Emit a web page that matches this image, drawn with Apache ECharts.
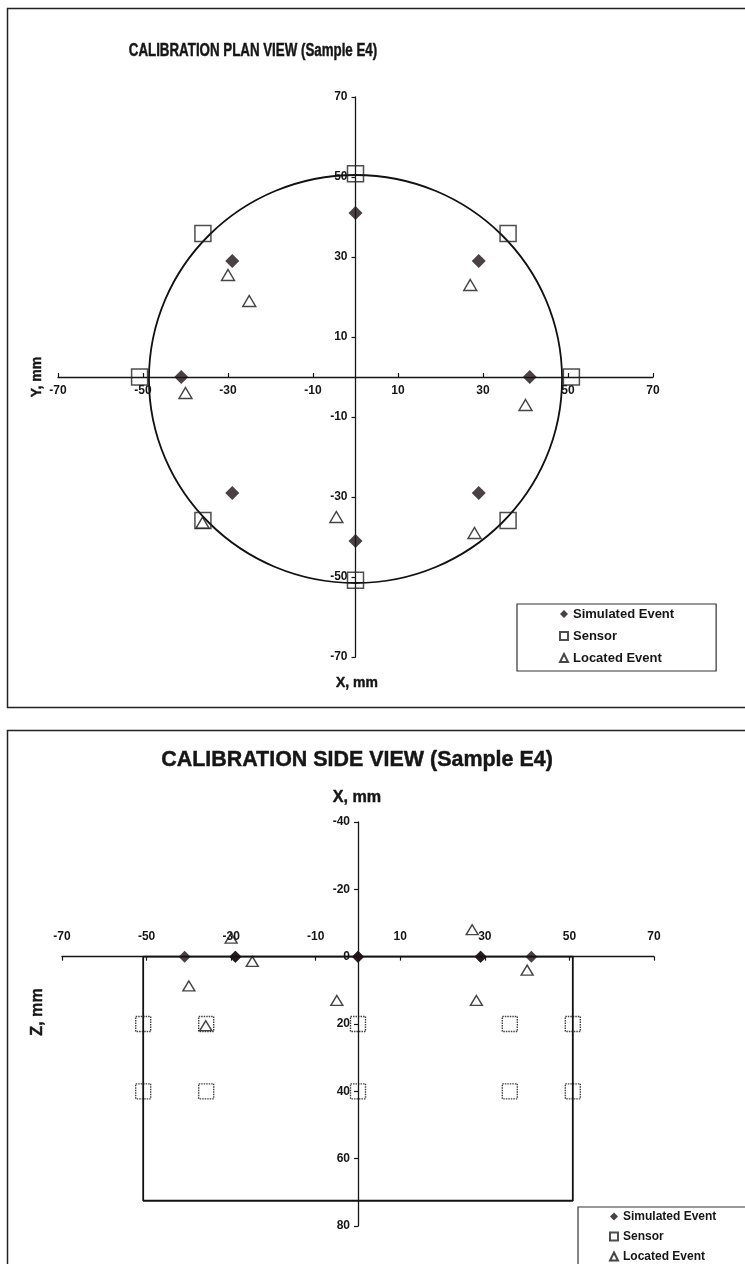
<!DOCTYPE html>
<html>
<head>
<meta charset="utf-8">
<script src="https://cdn.jsdelivr.net/npm/echarts@6/dist/echarts.min.js"></script>
<style>
  html, body { margin: 0; padding: 0; background: #ffffff; }
  #chart { width: 745px; height: 1264px; }
</style>
</head>
<body>
<div id="chart"></div>
<script>
// ---- Plan view (X, Y in mm) ----
const planSimulated = [[0, 41], [29, 29], [41, 0], [29, -29], [0, -41], [-29, -29], [-41, 0], [-29, 29]];
const planSensors = [[0, 50.8], [35.9, 35.9], [50.8, 0], [35.9, -35.9], [0, -50.8], [-35.9, -35.9], [-50.8, 0], [-35.9, 35.9]];
const planLocated = [[-30, 25.5], [-25, 19], [-40, -4], [27, 23], [40, -7], [-36, -36.4], [-4.5, -35], [28, -39]];
const planTicks = [-70, -50, -30, -10, 10, 30, 50, 70];

// Specimen outline in plan view (centre and half-widths, mm)
const specimenCentre = [0, -0.5];
const specimenHalfWidths = [48.6, 51];

// ---- Side view (X, Z in mm) ----
const sideSimulated = [[0, 0], [29, 0], [41, 0], [29, 0], [0, 0], [-29, 0], [-41, 0], [-29, 0]];
const sideSensors = [[-50.8, 20], [-35.9, 20], [0, 20], [35.9, 20], [50.8, 20],
                     [-50.8, 40], [-35.9, 40], [0, 40], [35.9, 40], [50.8, 40]];
const sideLocated = [[-30, -5.5], [-25, 1.4], [-40, 8.7], [27, -8], [40, 4], [-36, 20.5], [-5, 13], [28, 13]];
const sideXTicks = [-70, -50, -30, -10, 10, 30, 50, 70];
const sideZTicks = [-40, -20, 0, 20, 40, 60, 80];
const sideOutline = [[-50.8, 0], [-50.8, 72.5], [50.8, 72.5], [50.8, 0], [-50.8, 0]];

const SERIES_NAMES = ['Simulated Event', 'Sensor', 'Located Event'];

const SANS = '"Liberation Sans", Arial, sans-serif';
const INK = '#161616';

function merge(a, b) { return Object.assign({}, a, b); }

function valueAxis(o, ticks, labelOpts, tickOpts) {
  return Object.assign({
    type: 'value',
    splitLine: { show: false },
    axisLine: { show: true, onZero: false, lineStyle: { color: INK, width: 1.3 } },
    axisTick: merge({ show: true, length: 4, customValues: ticks, lineStyle: { color: INK, width: 1.2 } }, tickOpts || {}),
    axisLabel: merge({ color: INK, fontWeight: 'bold', fontFamily: SANS, fontSize: 12, customValues: ticks }, labelOpts || {})
  }, o);
}

const topX = valueAxis({ gridIndex: 0, min: -70, max: 70, position: 'bottom' }, planTicks, { margin: 8 }, { inside: true });
const topY = valueAxis({ gridIndex: 0, min: -70, max: 70, position: 'left' }, planTicks, { margin: 8 });
const botX = valueAxis({ gridIndex: 1, min: -70, max: 70, position: 'top' }, sideXTicks, { margin: 14 }, { inside: true });
const botY = valueAxis({ gridIndex: 1, min: -40, max: 80, interval: 20, inverse: true, position: 'left' }, sideZTicks, { margin: 8 });

function markerSeries(name, kind, data, axisIdx, small) {
  const s = { name: name, type: 'scatter', xAxisIndex: axisIdx, yAxisIndex: axisIdx, data: data, z: 5,
              emphasis: { disabled: true }, silent: true };
  if (kind === 'diamond') {
    s.symbol = 'diamond'; s.symbolSize = small ? [12, 12] : [14, 14];
    s.itemStyle = { color: '#1c1214' };
  } else if (kind === 'rect') {
    s.symbol = 'rect'; s.symbolSize = small ? [15, 15] : [16, 16];
    s.itemStyle = small
      ? { color: 'rgba(255,255,255,0)', borderColor: '#111', borderWidth: 1.4, borderType: [1.5, 1] }
      : { color: 'rgba(255,255,255,0)', borderColor: '#222', borderWidth: 1.5 };
  } else {
    s.symbol = 'triangle'; s.symbolSize = small ? [12, 10] : [13, 11];
    s.itemStyle = { color: 'rgba(255,255,255,0)', borderColor: INK, borderWidth: 1.4 };
  }
  return s;
}

const legendBase = {
  orient: 'vertical',
  selectedMode: false,
  backgroundColor: 'rgba(255,255,255,0)',
  borderColor: '#333',
  borderWidth: 1.2,
  borderRadius: 0,
  itemWidth: 8,
  itemHeight: 8,
  itemGap: 8,
  textStyle: { color: INK, fontWeight: 'bold', fontFamily: SANS, fontSize: 13, lineHeight: 14 },
  data: [
    { name: SERIES_NAMES[0], icon: 'diamond' },
    { name: SERIES_NAMES[1], icon: 'rect' },
    { name: SERIES_NAMES[2], icon: 'triangle' }
  ]
};

function heavyText(str, x, y, size, sx, rot) {
  return { type: 'text', silent: true, x: x, y: y, scaleX: sx, rotation: rot || 0,
           style: { text: str, font: 'bold ' + size + 'px ' + SANS, fill: INK,
                    stroke: INK, lineWidth: 0.45,
                    textAlign: 'center', textVerticalAlign: 'middle' } };
}

const option = {
  backgroundColor: '#ffffff',
  animation: false,
  grid: [
    { left: 58, width: 595, top: 97, height: 560 },
    { left: 62, width: 592, top: 822, height: 404 }
  ],
  xAxis: [topX, botX],
  yAxis: [topY, botY],
  legend: [
    merge(legendBase, { left: 517, top: 604, padding: [3, 42, 6, 42] }),
    merge(legendBase, {
      left: 578, top: 1207, height: 90, padding: [3, 60, 30, 31], itemGap: 7,
      textStyle: { color: INK, fontWeight: 'bold', fontFamily: SANS, fontSize: 12, lineHeight: 13 }
    })
  ],
  graphic: [
    { type: 'rect', silent: true, shape: { x: 7.5, y: 8.5, width: 760, height: 699 },
      style: { fill: 'none', stroke: '#222', lineWidth: 1.5 } },
    { type: 'rect', silent: true, shape: { x: 7.5, y: 730.5, width: 760, height: 600 },
      style: { fill: 'none', stroke: '#222', lineWidth: 1.5 } },
    heavyText('CALIBRATION PLAN VIEW (Sample E4)', 253, 51, 18, 0.74),
    heavyText('X, mm', 357, 683, 15, 0.93),
    heavyText('Y, mm', 37, 377, 15, 0.93, Math.PI / 2),
    heavyText('CALIBRATION SIDE VIEW (Sample E4)', 357, 760, 22, 0.975),
    heavyText('X, mm', 357, 797, 17, 0.95),
    heavyText('Z, mm', 37, 1012, 17, 0.95, Math.PI / 2)
  ],
  series: [
    {
      type: 'custom', name: 'specimen-plan', xAxisIndex: 0, yAxisIndex: 0, silent: true, z: 2,
      data: [specimenCentre],
      renderItem: function (params, api) {
        const c = api.coord(specimenCentre);
        const s = api.size(specimenHalfWidths);
        return { type: 'ellipse', shape: { cx: c[0], cy: c[1], rx: s[0], ry: s[1] },
                 style: { fill: 'none', stroke: '#111', lineWidth: 1.8 } };
      }
    },
    {
      type: 'line', name: 'specimen-side', xAxisIndex: 1, yAxisIndex: 1, silent: true, z: 2,
      data: sideOutline, showSymbol: false, symbol: 'none',
      lineStyle: { color: '#111', width: 1.8 }
    },
    markerSeries(SERIES_NAMES[0], 'diamond', planSimulated, 0, false),
    markerSeries(SERIES_NAMES[1], 'rect', planSensors, 0, false),
    markerSeries(SERIES_NAMES[2], 'triangle', planLocated, 0, false),
    markerSeries(SERIES_NAMES[0], 'diamond', sideSimulated, 1, true),
    markerSeries(SERIES_NAMES[1], 'rect', sideSensors, 1, true),
    markerSeries(SERIES_NAMES[2], 'triangle', sideLocated, 1, true)
  ]
};

const chart = echarts.init(document.getElementById('chart'), null, { renderer: 'canvas' });
chart.setOption(option);

// Shift each pair of axes so they cross at the origin, labels and ticks included.
function originPixels(gi, xMin, yMin) {
  return {
    xZero: chart.convertToPixel({ xAxisIndex: gi }, 0),
    yZero: chart.convertToPixel({ yAxisIndex: gi }, 0),
    gridLeft: chart.convertToPixel({ xAxisIndex: gi }, xMin),
    yEdge: chart.convertToPixel({ yAxisIndex: gi }, yMin)
  };
}
const p0 = originPixels(0, -70, -70);   // yEdge = bottom of plan grid
const p1 = originPixels(1, -70, -40);   // yEdge = top of side grid (inverse axis)
chart.setOption({
  xAxis: [
    { offset: p0.yZero - p0.yEdge },       // bottom-positioned: positive offset moves down
    { offset: p1.yEdge - p1.yZero }        // top-positioned: positive offset moves up
  ],
  yAxis: [
    { offset: p0.gridLeft - p0.xZero },
    { offset: p1.gridLeft - p1.xZero }
  ]
});
</script>
</body>
</html>
